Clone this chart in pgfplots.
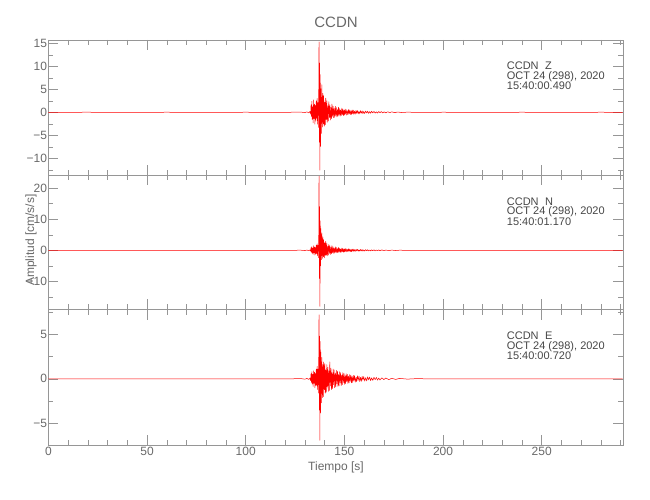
\documentclass[border=0pt]{standalone}
\usepackage{fontspec}
\setmainfont{Liberation Sans}
\usepackage{pgfplots}
\pgfplotsset{compat=1.18}
\definecolor{axgray}{RGB}{150,150,150}
\definecolor{tgray}{RGB}{105,105,105}
\definecolor{agray}{RGB}{70,70,70}
\pgfplotsset{panel/.style={
  scale only axis, width=574.6pt, xmin=0, xmax=291.2,
  xtick={0,50,...,250},
  minor xtick={10,20,30,40,60,70,80,90,110,120,130,140,160,170,180,190,210,220,230,240,260,270,280,290},
  tick align=inside, major tick length=10pt, minor tick length=5pt,
  axis line style={axgray, line width=0.5pt},
  tick style={axgray, line width=0.5pt},
  ticklabel style={font=\fontsize{12}{14}\selectfont, text=tgray},
  yticklabel style={inner sep=1.2pt},
  xticklabel style={inner sep=2pt},
  /pgf/number format/assume math mode=true,
  xtick pos=both, ytick pos=both, xticklabel pos=lower, yticklabel pos=left,
  anchor=south west, clip=true},
  trace/.style={red, line width=0.5pt, line join=round}}
\begin{document}
\begin{tikzpicture}[x=1pt,y=1pt]
\useasboundingbox (0,0) rectangle (650,500);
% Panel 1 (Z)
\begin{axis}[panel, at={(48.4pt,324.7pt)}, height=135.3pt,
  ymin=-13.7, ymax=15.72, ytick={-10,-5,0,5,10,15},
  yticklabels={−10,−5,0,5,10,15},
  minor ytick={-12.5,-7.5,-2.5,2.5,7.5,12.5}, xticklabels={}]
\addplot[trace] coordinates {
(0,0) (20,0.01) (40,-0.01) (60,0.01) (80,-0.01) (100,0.01) (120,-0.01) (128,0.04) (130,-0.06) (131,0.08) (132,-0.12)
(132.6,0.2) (132.9,-0.4) (133.1,1.6) (133.3,-0.9) (133.5,2.4) (133.7,-1.6) (133.95,1.2) (134.15,-2.3) (134.4,2.7) (134.6,-1.4) (134.85,1.8) (135.05,-2.6) (135.3,1.5) (135.5,-1.9) (135.75,2.5) (135.95,-1.3) (136.2,3.0) (136.4,-2.6) (136.6,2.1) (136.8,-3.3) (137.0,4.5)
(137.15,15.3) (137.3,-6.5) (137.45,10.7) (137.6,-12.6) (137.75,8.2) (137.9,-7.4)
(138.1,5.1) (138.35,-4.6) (138.6,6.0) (138.8,-3.2) (139.05,4.1) (139.3,-2.5) (139.5,3.6) (139.8,-3.0) (140.05,2.2) (140.3,-2.7) (140.55,3.1) (140.8,-1.6) (141.1,2.5) (141.3,-2.2) (141.6,1.4) (141.85,-1.9) (142.1,2.3) (142.4,-1.2) (142.6,1.6) (142.9,-1.7) (143.2,1.1) (143.45,-1.4) (143.7,1.8) (144.0,-0.9) (144.3,1.3) (144.55,-1.2) (144.8,0.8) (145.1,-1.1) (145.4,1.3) (145.65,-0.7) (145.9,1.0) (146.2,-1.0) (146.5,0.6) (146.75,-0.9) (147.0,1.1) (147.3,-0.6) (147.6,0.8) (147.85,-0.85) (148.1,0.5) (148.4,-0.7) (148.7,0.9) (148.95,-0.5) (149.2,0.7) (149.5,-0.75) (149.8,0.45) (150.1,-0.6) (150.35,0.7) (150.6,-0.4) (150.9,0.6) (151.2,-0.6) (151.5,0.35) (151.8,-0.5) (152.1,0.6) (152.4,-0.35) (152.7,0.5) (153.0,-0.5) (153.3,0.3) (153.6,-0.45) (153.9,0.5) (154.2,-0.3) (154.5,0.45) (154.8,-0.45) (155.1,0.25) (155.5,-0.4) (155.9,0.42) (156.2,-0.25) (156.6,0.38) (157.0,-0.35) (157.4,0.22) (157.8,-0.33) (158.2,0.35) (158.6,-0.2) (159.0,0.3) (159.4,-0.3) (159.8,0.18) (160.3,-0.27) (160.8,0.28) (161.3,-0.16) (161.8,0.24) (162.3,-0.24) (162.8,0.14) (163.3,-0.21) (163.8,0.22) (164.4,-0.13) (165,0.19) (165.6,-0.19) (166.2,0.11) (166.8,-0.17) (167.4,0.17) (168,-0.1) (168.7,0.15) (169.4,-0.14) (170.1,0.09) (171,-0.12) (172,0.11) (173,-0.08) (174,0.09) (175.5,-0.07) (177,0.06) (179,-0.05) (182,0.03) (186,-0.02)
(200,0.01) (220,-0.01) (240,0.01) (260,-0.01) (280,0.01) (291,0)
};
\end{axis}
% Panel 2 (N)
\begin{axis}[panel, at={(48.4pt,190.5pt)}, height=134.2pt,
  ymin=-19.0, ymax=24.1, ytick={-10,0,10,20},
  yticklabels={−10,0,10,20},
  minor ytick={-15,-5,5,15}, xticklabels={}]
\addplot[trace] coordinates {
(0,0) (20,0.01) (40,-0.01) (60,0.01) (80,-0.01) (100,0.01) (120,-0.01) (128,0.04) (130,-0.06) (131,0.08) (132,-0.1)
(132.6,0.15) (132.9,-0.3) (133.1,0.9) (133.3,-0.6) (133.5,1.2) (133.7,-1.0) (133.95,0.7) (134.15,-1.3) (134.4,1.5) (134.6,-0.8) (134.85,1.1) (135.05,-1.5) (135.3,0.9) (135.5,-1.2) (135.75,1.7) (135.95,-1.0) (136.2,2.1) (136.4,-1.8) (136.6,1.6) (136.8,-2.4) (137.0,4.0)
(137.15,23.8) (137.3,-9) (137.45,14) (137.6,-18) (137.75,9.5) (137.9,-5.0)
(138.1,7.0) (138.35,-3.0) (138.6,5.6) (138.8,-2.6) (139.05,4.3) (139.3,-2.0) (139.5,3.4) (139.8,-2.4) (140.05,2.4) (140.3,-1.6) (140.55,2.9) (140.8,-1.5) (141.1,2.2) (141.3,-1.8) (141.6,1.3) (141.85,-1.5) (142.1,1.9) (142.4,-1.0) (142.6,1.5) (142.9,-1.3) (143.2,1.0) (143.45,-1.1) (143.7,1.5) (144.0,-0.8) (144.3,1.1) (144.55,-0.95) (144.8,0.7) (145.1,-0.9) (145.4,1.1) (145.65,-0.6) (145.9,0.9) (146.2,-0.8) (146.5,0.55) (146.75,-0.75) (147.0,0.9) (147.3,-0.5) (147.6,0.7) (147.85,-0.7) (148.1,0.45) (148.4,-0.6) (148.7,0.75) (148.95,-0.42) (149.2,0.6) (149.5,-0.62) (149.8,0.4) (150.1,-0.5) (150.35,0.6) (150.6,-0.35) (150.9,0.5) (151.2,-0.5) (151.5,0.3) (151.8,-0.42) (152.1,0.5) (152.4,-0.3) (152.7,0.42) (153.0,-0.42) (153.3,0.25) (153.6,-0.38) (153.9,0.42) (154.2,-0.25) (154.5,0.38) (154.8,-0.38) (155.1,0.22) (155.5,-0.34) (155.9,0.35) (156.2,-0.2) (156.6,0.32) (157.0,-0.3) (157.4,0.19) (157.8,-0.28) (158.2,0.3) (158.6,-0.17) (159.0,0.26) (159.4,-0.26) (159.8,0.15) (160.3,-0.23) (160.8,0.24) (161.3,-0.14) (161.8,0.2) (162.3,-0.2) (162.8,0.12) (163.3,-0.18) (163.8,0.18) (164.4,-0.11) (165,0.16) (165.6,-0.16) (166.2,0.1) (166.8,-0.14) (167.4,0.14) (168,-0.09) (169,0.12) (170,-0.1) (171,0.08) (172.5,-0.08) (174,0.07) (176,-0.06) (178,0.05) (182,-0.03) (186,0.02)
(200,-0.01) (220,0.01) (240,-0.01) (260,0.01) (280,-0.01) (291,0)
};
\end{axis}
% Panel 3 (E)
\begin{axis}[panel, at={(48.4pt,55pt)}, height=135.5pt,
  ymin=-7.43, ymax=7.79, ytick={-5,0,5},
  yticklabels={−5,0,5},
  minor ytick={-2.5,2.5,7.5}]
\addplot[trace] coordinates {
(0,0) (20,0.01) (40,-0.01) (60,0.01) (80,-0.01) (100,0.01) (120,-0.01) (128,0.03) (130,-0.04) (131,0.05) (132,-0.07)
(132.6,0.1) (132.9,-0.2) (133.1,0.6) (133.3,-0.4) (133.5,0.8) (133.7,-0.6) (133.95,0.5) (134.15,-0.85) (134.4,0.9) (134.6,-0.5) (134.85,0.75) (135.05,-1.0) (135.3,0.6) (135.5,-0.8) (135.75,1.1) (135.95,-0.7) (136.2,1.4) (136.4,-1.2) (136.6,1.1) (136.8,-1.6) (137.0,2.2)
(137.15,7.2) (137.3,-3.5) (137.45,4.8) (137.6,-6.9) (137.75,4.2) (137.9,-3.8)
(138.1,3.0) (138.35,-2.7) (138.6,2.4) (138.8,-2.1) (139.05,1.6) (139.3,-2.0) (139.5,1.9) (139.8,-1.2) (140.05,1.7) (140.3,-1.6) (140.55,1.0) (140.8,-1.5) (141.1,1.6) (141.3,-0.9) (141.6,1.3) (141.85,-1.4) (142.1,0.9) (142.4,-1.3) (142.6,1.9) (142.9,-0.8) (143.2,1.2) (143.45,-1.2) (143.7,0.7) (144.0,-1.1) (144.3,1.1) (144.55,-0.65) (144.8,1.0) (145.1,-1.0) (145.4,0.6) (145.65,-0.9) (145.9,0.95) (146.2,-0.55) (146.5,0.85) (146.75,-0.85) (147.0,0.5) (147.3,-0.8) (147.6,0.8) (147.85,-0.45) (148.1,0.7) (148.4,-0.75) (148.7,0.42) (148.95,-0.65) (149.2,0.7) (149.5,-0.4) (149.8,0.6) (150.1,-0.62) (150.35,0.35) (150.6,-0.55) (150.9,0.58) (151.2,-0.32) (151.5,0.5) (151.8,-0.52) (152.1,0.3) (152.4,-0.46) (152.7,0.48) (153.0,-0.27) (153.3,0.42) (153.6,-0.44) (153.9,0.25) (154.2,-0.4) (154.5,0.4) (154.8,-0.22) (155.1,0.36) (155.5,-0.37) (155.9,0.2) (156.2,-0.33) (156.6,0.34) (157.0,-0.18) (157.4,0.3) (157.8,-0.31) (158.2,0.17) (158.6,-0.28) (159.0,0.28) (159.4,-0.15) (159.8,0.26) (160.3,-0.26) (160.8,0.14) (161.3,-0.23) (161.8,0.23) (162.3,-0.12) (162.8,0.2) (163.3,-0.2) (163.8,0.11) (164.4,-0.18) (165,0.18) (165.6,-0.1) (166.2,0.16) (166.8,-0.15) (167.4,0.09) (168,-0.13) (169,0.12) (170,-0.08) (171,0.1) (172.5,-0.09) (174,0.06) (176,-0.06) (178,0.05) (182,-0.03) (186,0.02)
(200,-0.01) (220,0.01) (240,-0.01) (260,0.01) (280,-0.01) (291,0)
};
\end{axis}
% Titles and labels
\node[text=tgray, font=\fontsize{15}{18}\selectfont] at (336,477.5) {CCDN};
\node[text=tgray, font=\fontsize{12}{14}\selectfont] at (336,33) {Tiempo [s]};
\node[text=tgray, font=\fontsize{12}{14}\selectfont, rotate=90] at (31,260) {Amplitud [cm/s/s]};
% Annotations
\begin{scope}[every node/.style={anchor=base west, inner sep=0pt, text=agray, font=\fontsize{11}{13}\selectfont}]
\node at (506.7,430) {\makebox[38.3pt][l]{CCDN}Z};
\node at (506.7,420.5) {OCT 24 (298), 2020};
\node at (506.7,410) {15:40:00.490};
\node at (506.7,294.7) {\makebox[38.3pt][l]{CCDN}N};
\node at (506.7,285.2) {OCT 24 (298), 2020};
\node at (506.7,274.7) {15:40:01.170};
\node at (506.7,160) {\makebox[38.3pt][l]{CCDN}E};
\node at (506.7,150.5) {OCT 24 (298), 2020};
\node at (506.7,140) {15:40:00.720};
\end{scope}
\end{tikzpicture}
\end{document}
